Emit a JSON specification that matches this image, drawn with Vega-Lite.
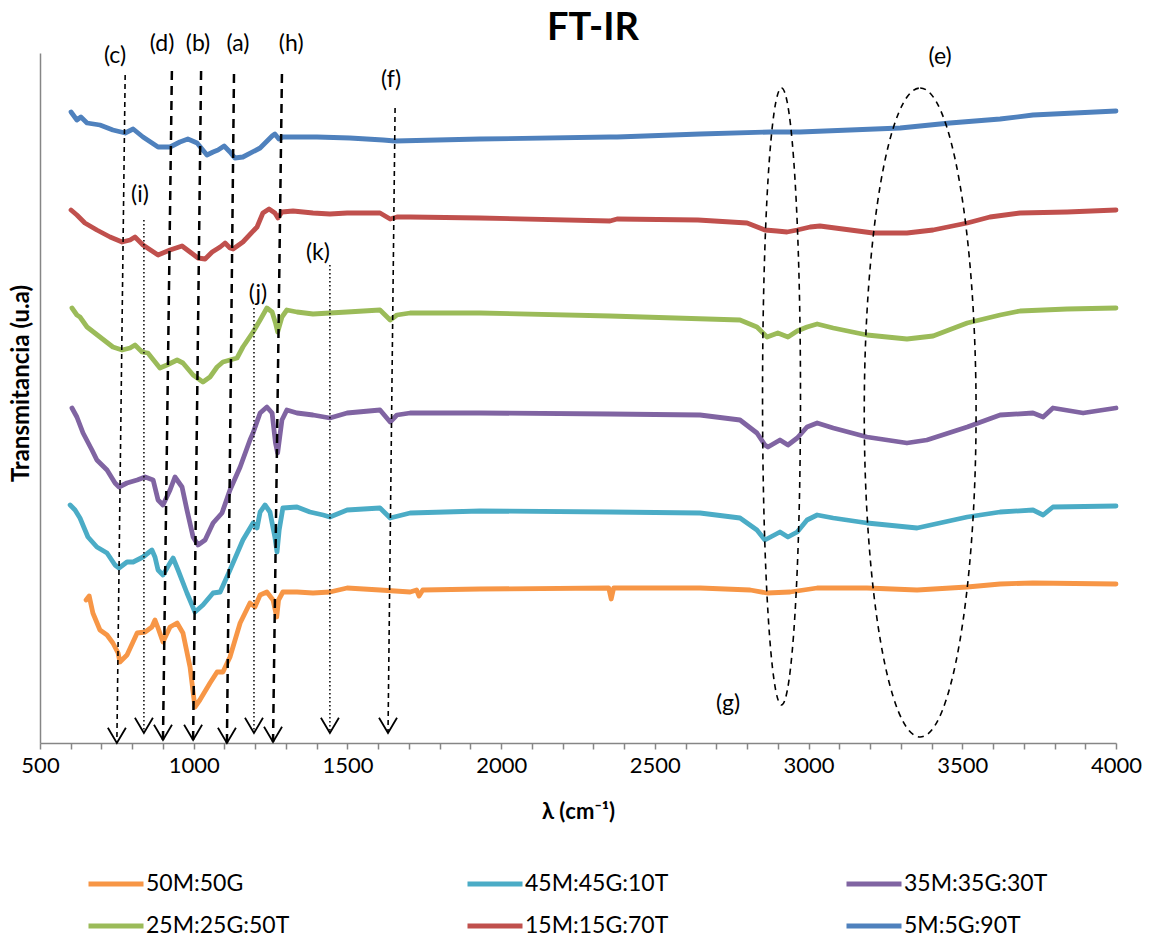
{
  "$schema": "https://vega.github.io/schema/vega-lite/v6.json",
  "width": 1076,
  "height": 690,
  "autosize": {"type": "none"},
  "padding": {"left": 40, "top": 53, "right": 38, "bottom": 195},
  "background": "white",
  "config": {"font": "Lato", "view": {"stroke": null}},
  "title": {"text": "FT-IR", "fontSize": 38, "fontWeight": "bold", "font": "Lato", "color": "black", "anchor": "middle", "frame": "group", "dx": 15, "offset": 12, "dy": 27},
  "resolve": {"axis": {"x": "independent", "y": "independent"}},
  "datasets": {
    "spectra": [
      {"series": "5M:5G:90T", "wn": 601, "T": 631}, {"series": "5M:5G:90T", "wn": 620, "T": 623}, {"series": "5M:5G:90T", "wn": 633, "T": 626}, {"series": "5M:5G:90T", "wn": 653, "T": 620}, {"series": "5M:5G:90T", "wn": 695, "T": 618}, {"series": "5M:5G:90T", "wn": 737, "T": 613}, {"series": "5M:5G:90T", "wn": 777, "T": 610}, {"series": "5M:5G:90T", "wn": 803, "T": 614}, {"series": "5M:5G:90T", "wn": 835, "T": 606}, {"series": "5M:5G:90T", "wn": 884, "T": 596}, {"series": "5M:5G:90T", "wn": 923, "T": 596}, {"series": "5M:5G:90T", "wn": 955, "T": 601}, {"series": "5M:5G:90T", "wn": 981, "T": 604}, {"series": "5M:5G:90T", "wn": 1011, "T": 600}, {"series": "5M:5G:90T", "wn": 1043, "T": 588}, {"series": "5M:5G:90T", "wn": 1063, "T": 591}, {"series": "5M:5G:90T", "wn": 1079, "T": 593}, {"series": "5M:5G:90T", "wn": 1099, "T": 597}, {"series": "5M:5G:90T", "wn": 1118, "T": 591}, {"series": "5M:5G:90T", "wn": 1134, "T": 585}, {"series": "5M:5G:90T", "wn": 1160, "T": 586}, {"series": "5M:5G:90T", "wn": 1216, "T": 595}, {"series": "5M:5G:90T", "wn": 1255, "T": 607}, {"series": "5M:5G:90T", "wn": 1264, "T": 609}, {"series": "5M:5G:90T", "wn": 1277, "T": 604}, {"series": "5M:5G:90T", "wn": 1290, "T": 606}, {"series": "5M:5G:90T", "wn": 1401, "T": 606}, {"series": "5M:5G:90T", "wn": 1508, "T": 605}, {"series": "5M:5G:90T", "wn": 1616, "T": 603}, {"series": "5M:5G:90T", "wn": 1655, "T": 602}, {"series": "5M:5G:90T", "wn": 1931, "T": 604}, {"series": "5M:5G:90T", "wn": 2354, "T": 606}, {"series": "5M:5G:90T", "wn": 2377, "T": 606}, {"series": "5M:5G:90T", "wn": 2647, "T": 609}, {"series": "5M:5G:90T", "wn": 2875, "T": 611}, {"series": "5M:5G:90T", "wn": 2972, "T": 611}, {"series": "5M:5G:90T", "wn": 3298, "T": 615}, {"series": "5M:5G:90T", "wn": 3460, "T": 620}, {"series": "5M:5G:90T", "wn": 3623, "T": 624}, {"series": "5M:5G:90T", "wn": 3730, "T": 628}, {"series": "5M:5G:90T", "wn": 4000, "T": 632},

      {"series": "15M:15G:70T", "wn": 601, "T": 533}, {"series": "15M:15G:70T", "wn": 620, "T": 528}, {"series": "15M:15G:70T", "wn": 646, "T": 520}, {"series": "15M:15G:70T", "wn": 685, "T": 513}, {"series": "15M:15G:70T", "wn": 728, "T": 506}, {"series": "15M:15G:70T", "wn": 767, "T": 501}, {"series": "15M:15G:70T", "wn": 793, "T": 503}, {"series": "15M:15G:70T", "wn": 809, "T": 506}, {"series": "15M:15G:70T", "wn": 835, "T": 498}, {"series": "15M:15G:70T", "wn": 884, "T": 488}, {"series": "15M:15G:70T", "wn": 923, "T": 493}, {"series": "15M:15G:70T", "wn": 962, "T": 497}, {"series": "15M:15G:70T", "wn": 988, "T": 491}, {"series": "15M:15G:70T", "wn": 1014, "T": 485}, {"series": "15M:15G:70T", "wn": 1037, "T": 484}, {"series": "15M:15G:70T", "wn": 1060, "T": 491}, {"series": "15M:15G:70T", "wn": 1086, "T": 496}, {"series": "15M:15G:70T", "wn": 1102, "T": 500}, {"series": "15M:15G:70T", "wn": 1118, "T": 495}, {"series": "15M:15G:70T", "wn": 1128, "T": 494}, {"series": "15M:15G:70T", "wn": 1160, "T": 501}, {"series": "15M:15G:70T", "wn": 1206, "T": 516}, {"series": "15M:15G:70T", "wn": 1225, "T": 530}, {"series": "15M:15G:70T", "wn": 1245, "T": 534}, {"series": "15M:15G:70T", "wn": 1264, "T": 530}, {"series": "15M:15G:70T", "wn": 1274, "T": 525}, {"series": "15M:15G:70T", "wn": 1287, "T": 531}, {"series": "15M:15G:70T", "wn": 1323, "T": 532}, {"series": "15M:15G:70T", "wn": 1388, "T": 530}, {"series": "15M:15G:70T", "wn": 1443, "T": 529}, {"series": "15M:15G:70T", "wn": 1499, "T": 530}, {"series": "15M:15G:70T", "wn": 1606, "T": 530}, {"series": "15M:15G:70T", "wn": 1639, "T": 524}, {"series": "15M:15G:70T", "wn": 1661, "T": 526}, {"series": "15M:15G:70T", "wn": 1704, "T": 526}, {"series": "15M:15G:70T", "wn": 1931, "T": 525}, {"series": "15M:15G:70T", "wn": 2354, "T": 522}, {"series": "15M:15G:70T", "wn": 2377, "T": 524}, {"series": "15M:15G:70T", "wn": 2640, "T": 523}, {"series": "15M:15G:70T", "wn": 2800, "T": 520}, {"series": "15M:15G:70T", "wn": 2858, "T": 513}, {"series": "15M:15G:70T", "wn": 2897, "T": 512}, {"series": "15M:15G:70T", "wn": 2930, "T": 511}, {"series": "15M:15G:70T", "wn": 2963, "T": 513}, {"series": "15M:15G:70T", "wn": 3005, "T": 516}, {"series": "15M:15G:70T", "wn": 3037, "T": 517}, {"series": "15M:15G:70T", "wn": 3210, "T": 510}, {"series": "15M:15G:70T", "wn": 3320, "T": 510}, {"series": "15M:15G:70T", "wn": 3405, "T": 513}, {"series": "15M:15G:70T", "wn": 3516, "T": 520}, {"series": "15M:15G:70T", "wn": 3590, "T": 526}, {"series": "15M:15G:70T", "wn": 3688, "T": 530}, {"series": "15M:15G:70T", "wn": 3841, "T": 531}, {"series": "15M:15G:70T", "wn": 4000, "T": 533},

      {"series": "25M:25G:50T", "wn": 604, "T": 435}, {"series": "25M:25G:50T", "wn": 620, "T": 428}, {"series": "25M:25G:50T", "wn": 630, "T": 426}, {"series": "25M:25G:50T", "wn": 653, "T": 416}, {"series": "25M:25G:50T", "wn": 695, "T": 406}, {"series": "25M:25G:50T", "wn": 737, "T": 396}, {"series": "25M:25G:50T", "wn": 767, "T": 393}, {"series": "25M:25G:50T", "wn": 793, "T": 395}, {"series": "25M:25G:50T", "wn": 809, "T": 398}, {"series": "25M:25G:50T", "wn": 832, "T": 391}, {"series": "25M:25G:50T", "wn": 851, "T": 390}, {"series": "25M:25G:50T", "wn": 890, "T": 375}, {"series": "25M:25G:50T", "wn": 913, "T": 378}, {"series": "25M:25G:50T", "wn": 946, "T": 383}, {"series": "25M:25G:50T", "wn": 965, "T": 380}, {"series": "25M:25G:50T", "wn": 998, "T": 368}, {"series": "25M:25G:50T", "wn": 1030, "T": 361}, {"series": "25M:25G:50T", "wn": 1053, "T": 366}, {"series": "25M:25G:50T", "wn": 1076, "T": 376}, {"series": "25M:25G:50T", "wn": 1095, "T": 381}, {"series": "25M:25G:50T", "wn": 1118, "T": 383}, {"series": "25M:25G:50T", "wn": 1141, "T": 385}, {"series": "25M:25G:50T", "wn": 1160, "T": 396}, {"series": "25M:25G:50T", "wn": 1193, "T": 411}, {"series": "25M:25G:50T", "wn": 1216, "T": 423}, {"series": "25M:25G:50T", "wn": 1238, "T": 435}, {"series": "25M:25G:50T", "wn": 1255, "T": 431}, {"series": "25M:25G:50T", "wn": 1266, "T": 420}, {"series": "25M:25G:50T", "wn": 1273, "T": 411}, {"series": "25M:25G:50T", "wn": 1287, "T": 426}, {"series": "25M:25G:50T", "wn": 1303, "T": 433}, {"series": "25M:25G:50T", "wn": 1336, "T": 431}, {"series": "25M:25G:50T", "wn": 1388, "T": 429}, {"series": "25M:25G:50T", "wn": 1443, "T": 430}, {"series": "25M:25G:50T", "wn": 1499, "T": 431}, {"series": "25M:25G:50T", "wn": 1606, "T": 433}, {"series": "25M:25G:50T", "wn": 1639, "T": 423}, {"series": "25M:25G:50T", "wn": 1661, "T": 428}, {"series": "25M:25G:50T", "wn": 1704, "T": 430}, {"series": "25M:25G:50T", "wn": 1931, "T": 430}, {"series": "25M:25G:50T", "wn": 2354, "T": 427}, {"series": "25M:25G:50T", "wn": 2777, "T": 423}, {"series": "25M:25G:50T", "wn": 2832, "T": 416}, {"series": "25M:25G:50T", "wn": 2865, "T": 406}, {"series": "25M:25G:50T", "wn": 2900, "T": 410}, {"series": "25M:25G:50T", "wn": 2933, "T": 406}, {"series": "25M:25G:50T", "wn": 2963, "T": 412}, {"series": "25M:25G:50T", "wn": 2995, "T": 416}, {"series": "25M:25G:50T", "wn": 3028, "T": 419}, {"series": "25M:25G:50T", "wn": 3080, "T": 415}, {"series": "25M:25G:50T", "wn": 3190, "T": 408}, {"series": "25M:25G:50T", "wn": 3320, "T": 404}, {"series": "25M:25G:50T", "wn": 3405, "T": 407}, {"series": "25M:25G:50T", "wn": 3516, "T": 420}, {"series": "25M:25G:50T", "wn": 3623, "T": 428}, {"series": "25M:25G:50T", "wn": 3688, "T": 432}, {"series": "25M:25G:50T", "wn": 3841, "T": 434}, {"series": "25M:25G:50T", "wn": 4000, "T": 435},

      {"series": "35M:35G:30T", "wn": 604, "T": 335}, {"series": "35M:35G:30T", "wn": 620, "T": 326}, {"series": "35M:35G:30T", "wn": 640, "T": 310}, {"series": "35M:35G:30T", "wn": 669, "T": 293}, {"series": "35M:35G:30T", "wn": 685, "T": 283}, {"series": "35M:35G:30T", "wn": 718, "T": 273}, {"series": "35M:35G:30T", "wn": 744, "T": 260}, {"series": "35M:35G:30T", "wn": 757, "T": 256}, {"series": "35M:35G:30T", "wn": 783, "T": 260}, {"series": "35M:35G:30T", "wn": 816, "T": 263}, {"series": "35M:35G:30T", "wn": 842, "T": 266}, {"series": "35M:35G:30T", "wn": 868, "T": 263}, {"series": "35M:35G:30T", "wn": 884, "T": 243}, {"series": "35M:35G:30T", "wn": 900, "T": 238}, {"series": "35M:35G:30T", "wn": 923, "T": 253}, {"series": "35M:35G:30T", "wn": 939, "T": 266}, {"series": "35M:35G:30T", "wn": 962, "T": 256}, {"series": "35M:35G:30T", "wn": 978, "T": 233}, {"series": "35M:35G:30T", "wn": 998, "T": 206}, {"series": "35M:35G:30T", "wn": 1014, "T": 198}, {"series": "35M:35G:30T", "wn": 1037, "T": 203}, {"series": "35M:35G:30T", "wn": 1063, "T": 220}, {"series": "35M:35G:30T", "wn": 1092, "T": 230}, {"series": "35M:35G:30T", "wn": 1118, "T": 253}, {"series": "35M:35G:30T", "wn": 1151, "T": 276}, {"series": "35M:35G:30T", "wn": 1183, "T": 303}, {"series": "35M:35G:30T", "wn": 1193, "T": 310}, {"series": "35M:35G:30T", "wn": 1216, "T": 330}, {"series": "35M:35G:30T", "wn": 1238, "T": 336}, {"series": "35M:35G:30T", "wn": 1255, "T": 330}, {"series": "35M:35G:30T", "wn": 1266, "T": 300}, {"series": "35M:35G:30T", "wn": 1273, "T": 290}, {"series": "35M:35G:30T", "wn": 1287, "T": 323}, {"series": "35M:35G:30T", "wn": 1303, "T": 333}, {"series": "35M:35G:30T", "wn": 1336, "T": 330}, {"series": "35M:35G:30T", "wn": 1388, "T": 328}, {"series": "35M:35G:30T", "wn": 1443, "T": 325}, {"series": "35M:35G:30T", "wn": 1499, "T": 330}, {"series": "35M:35G:30T", "wn": 1606, "T": 333}, {"series": "35M:35G:30T", "wn": 1639, "T": 321}, {"series": "35M:35G:30T", "wn": 1661, "T": 328}, {"series": "35M:35G:30T", "wn": 1704, "T": 330}, {"series": "35M:35G:30T", "wn": 1931, "T": 330}, {"series": "35M:35G:30T", "wn": 2354, "T": 329}, {"series": "35M:35G:30T", "wn": 2647, "T": 328}, {"series": "35M:35G:30T", "wn": 2777, "T": 323}, {"series": "35M:35G:30T", "wn": 2832, "T": 310}, {"series": "35M:35G:30T", "wn": 2858, "T": 298}, {"series": "35M:35G:30T", "wn": 2868, "T": 296}, {"series": "35M:35G:30T", "wn": 2907, "T": 303}, {"series": "35M:35G:30T", "wn": 2933, "T": 298}, {"series": "35M:35G:30T", "wn": 2963, "T": 305}, {"series": "35M:35G:30T", "wn": 2995, "T": 316}, {"series": "35M:35G:30T", "wn": 3028, "T": 320}, {"series": "35M:35G:30T", "wn": 3080, "T": 315}, {"series": "35M:35G:30T", "wn": 3190, "T": 306}, {"series": "35M:35G:30T", "wn": 3320, "T": 300}, {"series": "35M:35G:30T", "wn": 3385, "T": 303}, {"series": "35M:35G:30T", "wn": 3516, "T": 316}, {"series": "35M:35G:30T", "wn": 3623, "T": 328}, {"series": "35M:35G:30T", "wn": 3730, "T": 330}, {"series": "35M:35G:30T", "wn": 3763, "T": 326}, {"series": "35M:35G:30T", "wn": 3795, "T": 335}, {"series": "35M:35G:30T", "wn": 3893, "T": 330}, {"series": "35M:35G:30T", "wn": 4000, "T": 335},

      {"series": "45M:45G:10T", "wn": 598, "T": 238}, {"series": "45M:45G:10T", "wn": 614, "T": 233}, {"series": "45M:45G:10T", "wn": 630, "T": 225}, {"series": "45M:45G:10T", "wn": 656, "T": 206}, {"series": "45M:45G:10T", "wn": 685, "T": 196}, {"series": "45M:45G:10T", "wn": 718, "T": 190}, {"series": "45M:45G:10T", "wn": 744, "T": 178}, {"series": "45M:45G:10T", "wn": 757, "T": 175}, {"series": "45M:45G:10T", "wn": 783, "T": 181}, {"series": "45M:45G:10T", "wn": 803, "T": 181}, {"series": "45M:45G:10T", "wn": 835, "T": 186}, {"series": "45M:45G:10T", "wn": 864, "T": 193}, {"series": "45M:45G:10T", "wn": 874, "T": 186}, {"series": "45M:45G:10T", "wn": 884, "T": 173}, {"series": "45M:45G:10T", "wn": 900, "T": 168}, {"series": "45M:45G:10T", "wn": 923, "T": 180}, {"series": "45M:45G:10T", "wn": 933, "T": 185}, {"series": "45M:45G:10T", "wn": 949, "T": 173}, {"series": "45M:45G:10T", "wn": 978, "T": 150}, {"series": "45M:45G:10T", "wn": 1004, "T": 131}, {"series": "45M:45G:10T", "wn": 1030, "T": 138}, {"series": "45M:45G:10T", "wn": 1063, "T": 150}, {"series": "45M:45G:10T", "wn": 1086, "T": 151}, {"series": "45M:45G:10T", "wn": 1118, "T": 173}, {"series": "45M:45G:10T", "wn": 1160, "T": 203}, {"series": "45M:45G:10T", "wn": 1193, "T": 220}, {"series": "45M:45G:10T", "wn": 1206, "T": 215}, {"series": "45M:45G:10T", "wn": 1216, "T": 231}, {"series": "45M:45G:10T", "wn": 1232, "T": 238}, {"series": "45M:45G:10T", "wn": 1248, "T": 231}, {"series": "45M:45G:10T", "wn": 1264, "T": 206}, {"series": "45M:45G:10T", "wn": 1271, "T": 191}, {"series": "45M:45G:10T", "wn": 1278, "T": 213}, {"series": "45M:45G:10T", "wn": 1290, "T": 235}, {"series": "45M:45G:10T", "wn": 1336, "T": 236}, {"series": "45M:45G:10T", "wn": 1378, "T": 231}, {"series": "45M:45G:10T", "wn": 1421, "T": 228}, {"series": "45M:45G:10T", "wn": 1443, "T": 226}, {"series": "45M:45G:10T", "wn": 1499, "T": 233}, {"series": "45M:45G:10T", "wn": 1606, "T": 235}, {"series": "45M:45G:10T", "wn": 1639, "T": 225}, {"series": "45M:45G:10T", "wn": 1704, "T": 230}, {"series": "45M:45G:10T", "wn": 1931, "T": 232}, {"series": "45M:45G:10T", "wn": 2354, "T": 231}, {"series": "45M:45G:10T", "wn": 2647, "T": 230}, {"series": "45M:45G:10T", "wn": 2777, "T": 225}, {"series": "45M:45G:10T", "wn": 2832, "T": 213}, {"series": "45M:45G:10T", "wn": 2858, "T": 203}, {"series": "45M:45G:10T", "wn": 2907, "T": 211}, {"series": "45M:45G:10T", "wn": 2933, "T": 206}, {"series": "45M:45G:10T", "wn": 2963, "T": 211}, {"series": "45M:45G:10T", "wn": 2995, "T": 223}, {"series": "45M:45G:10T", "wn": 3028, "T": 228}, {"series": "45M:45G:10T", "wn": 3080, "T": 225}, {"series": "45M:45G:10T", "wn": 3190, "T": 220}, {"series": "45M:45G:10T", "wn": 3353, "T": 215}, {"series": "45M:45G:10T", "wn": 3516, "T": 226}, {"series": "45M:45G:10T", "wn": 3623, "T": 231}, {"series": "45M:45G:10T", "wn": 3730, "T": 233}, {"series": "45M:45G:10T", "wn": 3763, "T": 228}, {"series": "45M:45G:10T", "wn": 3795, "T": 236}, {"series": "45M:45G:10T", "wn": 4000, "T": 237},

      {"series": "50M:50G", "wn": 650, "T": 143}, {"series": "50M:50G", "wn": 660, "T": 147}, {"series": "50M:50G", "wn": 672, "T": 130}, {"series": "50M:50G", "wn": 695, "T": 113}, {"series": "50M:50G", "wn": 718, "T": 108}, {"series": "50M:50G", "wn": 737, "T": 100}, {"series": "50M:50G", "wn": 754, "T": 90}, {"series": "50M:50G", "wn": 760, "T": 81}, {"series": "50M:50G", "wn": 783, "T": 88}, {"series": "50M:50G", "wn": 816, "T": 110}, {"series": "50M:50G", "wn": 842, "T": 111}, {"series": "50M:50G", "wn": 864, "T": 116}, {"series": "50M:50G", "wn": 874, "T": 123}, {"series": "50M:50G", "wn": 884, "T": 115}, {"series": "50M:50G", "wn": 900, "T": 101}, {"series": "50M:50G", "wn": 923, "T": 116}, {"series": "50M:50G", "wn": 946, "T": 120}, {"series": "50M:50G", "wn": 965, "T": 110}, {"series": "50M:50G", "wn": 988, "T": 76}, {"series": "50M:50G", "wn": 1004, "T": 36}, {"series": "50M:50G", "wn": 1020, "T": 43}, {"series": "50M:50G", "wn": 1053, "T": 60}, {"series": "50M:50G", "wn": 1076, "T": 71}, {"series": "50M:50G", "wn": 1095, "T": 71}, {"series": "50M:50G", "wn": 1118, "T": 86}, {"series": "50M:50G", "wn": 1151, "T": 120}, {"series": "50M:50G", "wn": 1183, "T": 140}, {"series": "50M:50G", "wn": 1199, "T": 136}, {"series": "50M:50G", "wn": 1216, "T": 148}, {"series": "50M:50G", "wn": 1238, "T": 151}, {"series": "50M:50G", "wn": 1258, "T": 143}, {"series": "50M:50G", "wn": 1270, "T": 126}, {"series": "50M:50G", "wn": 1276, "T": 143}, {"series": "50M:50G", "wn": 1290, "T": 151}, {"series": "50M:50G", "wn": 1336, "T": 151}, {"series": "50M:50G", "wn": 1388, "T": 150}, {"series": "50M:50G", "wn": 1443, "T": 151}, {"series": "50M:50G", "wn": 1499, "T": 155}, {"series": "50M:50G", "wn": 1606, "T": 153}, {"series": "50M:50G", "wn": 1704, "T": 151}, {"series": "50M:50G", "wn": 1725, "T": 153}, {"series": "50M:50G", "wn": 1733, "T": 147}, {"series": "50M:50G", "wn": 1745, "T": 153}, {"series": "50M:50G", "wn": 1931, "T": 154}, {"series": "50M:50G", "wn": 2350, "T": 155}, {"series": "50M:50G", "wn": 2358, "T": 144}, {"series": "50M:50G", "wn": 2366, "T": 155}, {"series": "50M:50G", "wn": 2647, "T": 155}, {"series": "50M:50G", "wn": 2810, "T": 153}, {"series": "50M:50G", "wn": 2865, "T": 150}, {"series": "50M:50G", "wn": 2940, "T": 151}, {"series": "50M:50G", "wn": 3028, "T": 155}, {"series": "50M:50G", "wn": 3190, "T": 155}, {"series": "50M:50G", "wn": 3353, "T": 153}, {"series": "50M:50G", "wn": 3516, "T": 156}, {"series": "50M:50G", "wn": 3623, "T": 159}, {"series": "50M:50G", "wn": 3730, "T": 160}, {"series": "50M:50G", "wn": 4000, "T": 159}
    ],
    "heavyLines": [
      {"label": "(d)", "wnTop": 929, "wnBottom": 900, "top": 672, "bottom": 3},
      {"label": "(b)", "wnTop": 1024, "wnBottom": 998, "top": 672, "bottom": 3},
      {"label": "(a)", "wnTop": 1131, "wnBottom": 1108, "top": 669, "bottom": 0},
      {"label": "(h)", "wnTop": 1287, "wnBottom": 1258, "top": 669, "bottom": 1}
    ],
    "thinLines": [
      {"label": "(c)", "wnTop": 777, "wnBottom": 750, "top": 668, "bottom": 0},
      {"label": "(f)", "wnTop": 1655, "wnBottom": 1632, "top": 635, "bottom": 10}
    ],
    "dottedLines": [
      {"label": "(i)", "wnTop": 838, "wnBottom": 838, "top": 523, "bottom": 10},
      {"label": "(j)", "wnTop": 1196, "wnBottom": 1196, "top": 435, "bottom": 10},
      {"label": "(k)", "wnTop": 1443, "wnBottom": 1443, "top": 478, "bottom": 10}
    ],
    "arrowTips": [
      {"label": "(c)", "wn": 750, "tip": 0},
      {"label": "(i)", "wn": 838, "tip": 10},
      {"label": "(d)", "wn": 900, "tip": 3},
      {"label": "(b)", "wn": 998, "tip": 3},
      {"label": "(a)", "wn": 1108, "tip": 0},
      {"label": "(j)", "wn": 1196, "tip": 10},
      {"label": "(h)", "wn": 1258, "tip": 1},
      {"label": "(k)", "wn": 1443, "tip": 10},
      {"label": "(f)", "wn": 1632, "tip": 10}
    ],
    "labels": [
      {"label": "(c)", "wn": 744, "pos": 687},
      {"label": "(d)", "wn": 897, "pos": 699},
      {"label": "(b)", "wn": 1014, "pos": 699},
      {"label": "(a)", "wn": 1144, "pos": 699},
      {"label": "(h)", "wn": 1317, "pos": 699},
      {"label": "(f)", "wn": 1642, "pos": 663},
      {"label": "(i)", "wn": 825, "pos": 548},
      {"label": "(j)", "wn": 1209, "pos": 449},
      {"label": "(k)", "wn": 1404, "pos": 490},
      {"label": "(e)", "wn": 3428, "pos": 686},
      {"label": "(g)", "wn": 2738, "pos": 39}
    ],
    "ellipseG": [{"label": "(g)", "wn": 2912, "pos": 346.5}],
    "ellipseE": [{"label": "(e)", "wn": 3363, "pos": 330.5}]
  },
  "layer": [
    {
      "data": {"name": "spectra"},
      "mark": {"type": "line", "strokeWidth": 4.8, "strokeCap": "round", "strokeJoin": "round"},
      "encoding": {
        "x": {"field": "wn", "type": "quantitative",
          "scale": {"domain": [500, 4000], "nice": false, "zero": false},
          "axis": {"orient": "bottom", "values": [500, 1000, 1500, 2000, 2500, 3000, 3500, 4000], "format": "d",
            "title": "λ (cm⁻¹)", "titleFontSize": 22, "titleFontWeight": "bold", "titleColor": "black", "titlePadding": 25,
            "labelFontSize": 22, "labelColor": "black", "labelPadding": 6, "labelFlush": false, "labelOverlap": false,
            "domainColor": "#868686", "domainWidth": 1.5, "tickColor": "#868686", "tickSize": 6, "tickWidth": 1.5, "grid": false}},
        "y": {"field": "T", "type": "quantitative",
          "scale": {"domain": [0, 690], "nice": false, "zero": false},
          "axis": {"orient": "left", "title": "Transmitancia (u.a)", "labels": false, "ticks": false, "grid": false,
            "domainColor": "#868686", "domainWidth": 1.5,
            "titleFontSize": 24, "titleFontWeight": "bold", "titleColor": "black", "titlePadding": 7, "titleY": 330}},
        "color": {"field": "series", "type": "nominal",
          "scale": {"domain": ["50M:50G", "45M:45G:10T", "35M:35G:30T", "25M:25G:50T", "15M:15G:70T", "5M:5G:90T"],
                    "range": ["#F79646", "#4BACC6", "#8064A2", "#9BBB59", "#C0504D", "#4F81BD"]},
          "legend": {"orient": "none", "legendX": 46, "legendY": 801, "columns": 3, "direction": "horizontal", "title": null,
            "symbolType": "stroke", "symbolSize": 3025, "symbolStrokeWidth": 5, "labelFontSize": 23, "labelColor": "black",
            "labelOffset": 0, "columnPadding": 167, "rowPadding": -13, "gridAlign": "all", "padding": 0, "labelLimit": 400}}
      }
    },
    {
      "data": {"name": "heavyLines"},
      "mark": {"type": "rule", "color": "black", "strokeWidth": 2.5, "strokeDash": [9, 6]},
      "encoding": {
        "x": {"field": "wnTop", "type": "quantitative",
          "axis": {"orient": "bottom", "values": [600,700,800,900,1100,1200,1300,1400,1600,1700,1800,1900,2100,2200,2300,2400,2600,2700,2800,2900,3100,3200,3300,3400,3600,3700,3800,3900],
            "labels": false, "domain": false, "title": null, "grid": false, "tickColor": "#868686", "tickSize": 6, "tickWidth": 1.5}},
        "x2": {"field": "wnBottom"},
        "y": {"field": "top", "type": "quantitative", "axis": null},
        "y2": {"field": "bottom"}
      }
    },
    {
      "data": {"name": "thinLines"},
      "mark": {"type": "rule", "color": "black", "strokeWidth": 1.6, "strokeDash": [5, 4]},
      "encoding": {
        "x": {"field": "wnTop", "type": "quantitative", "axis": null},
        "x2": {"field": "wnBottom"},
        "y": {"field": "top", "type": "quantitative", "axis": null},
        "y2": {"field": "bottom"}
      }
    },
    {
      "data": {"name": "dottedLines"},
      "mark": {"type": "rule", "color": "black", "strokeWidth": 1.5, "strokeDash": [1.5, 2.5]},
      "encoding": {
        "x": {"field": "wnTop", "type": "quantitative", "axis": null},
        "x2": {"field": "wnBottom"},
        "y": {"field": "top", "type": "quantitative", "axis": null},
        "y2": {"field": "bottom"}
      }
    },
    {
      "data": {"name": "arrowTips"},
      "mark": {"type": "point", "shape": "M -1 -1.7 L 0 0 L 1 -1.7", "size": 324, "filled": false, "stroke": "black", "strokeWidth": 1.8, "opacity": 1},
      "encoding": {
        "x": {"field": "wn", "type": "quantitative", "axis": null},
        "y": {"field": "tip", "type": "quantitative", "axis": null}
      }
    },
    {
      "data": {"name": "ellipseG"},
      "mark": {"type": "point", "shape": "M0,-1C0.034,-1,0.0615,-0.5523,0.0615,0C0.0615,0.5523,0.034,1,0,1C-0.034,1,-0.0615,0.5523,-0.0615,0C-0.0615,-0.5523,-0.034,-1,0,-1Z", "size": 380689, "filled": false, "stroke": "black", "strokeWidth": 1.6, "strokeDash": [6, 5], "opacity": 1},
      "encoding": {
        "x": {"field": "wn", "type": "quantitative", "axis": null},
        "y": {"field": "pos", "type": "quantitative", "axis": null}
      }
    },
    {
      "data": {"name": "ellipseE"},
      "mark": {"type": "point", "shape": "M0,-1C0.0952,-1,0.1723,-0.5523,0.1723,0C0.1723,0.5523,0.0952,1,0,1C-0.0952,1,-0.1723,0.5523,-0.1723,0C-0.1723,-0.5523,-0.0952,-1,0,-1Z", "size": 421201, "filled": false, "stroke": "black", "strokeWidth": 1.6, "strokeDash": [6, 5], "opacity": 1},
      "encoding": {
        "x": {"field": "wn", "type": "quantitative", "axis": null},
        "y": {"field": "pos", "type": "quantitative", "axis": null}
      }
    },
    {
      "data": {"name": "labels"},
      "mark": {"type": "text", "fontSize": 23, "color": "black", "align": "center", "baseline": "middle"},
      "encoding": {
        "x": {"field": "wn", "type": "quantitative", "axis": null},
        "y": {"field": "pos", "type": "quantitative", "axis": null},
        "text": {"field": "label"}
      }
    }
  ]
}
